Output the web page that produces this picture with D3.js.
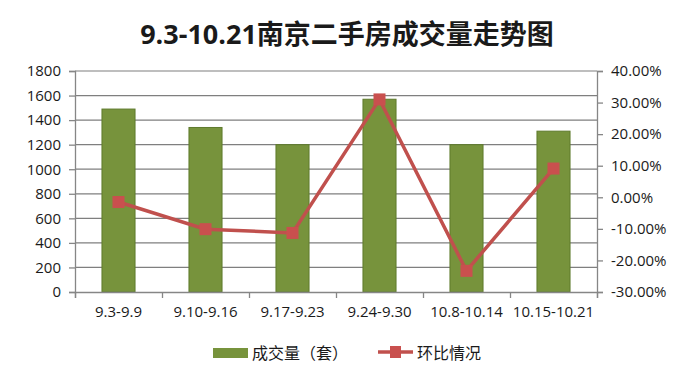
<html>
<head>
<meta charset="utf-8">
<script src="https://cdnjs.cloudflare.com/ajax/libs/d3/7.8.5/d3.min.js"></script>
<style>
  body { margin: 0; background: #fff; }
  text { font-family: "Open Sans", "Noto Sans CJK SC", sans-serif; fill: #1a1a1a; }
</style>
</head>
<body>
<div id="chart"></div>
<script>
// data
var weeks = ["9.3-9.9", "9.10-9.16", "9.17-9.23", "9.24-9.30", "10.8-10.14", "10.15-10.21"];
var volume = [1490, 1340, 1200, 1570, 1200, 1310];
var ratio = [-0.015, -0.101, -0.113, 0.310, -0.233, 0.091];
var leftTicks = [0, 200, 400, 600, 800, 1000, 1200, 1400, 1600, 1800];
var rightTicks = [-0.3, -0.2, -0.1, 0, 0.1, 0.2, 0.3, 0.4];

var W = 700, H = 380;
var m = {left: 75, right: 103, top: 71, bottom: 88};

var svg = d3.select("#chart").append("svg").attr("width", W).attr("height", H);

var x = d3.scaleBand().domain(weeks).range([m.left, W - m.right]).paddingInner(0.62).paddingOuter(0.31);
var xEdge = d3.scaleLinear().domain([0, weeks.length]).range([m.left, W - m.right]);
var y = d3.scaleLinear().domain([0, 1800]).range([H - m.bottom, m.top]);
var y2 = d3.scaleLinear().domain([-0.3, 0.4]).range([H - m.bottom, m.top]);

// title
svg.append("text").attr("x", 347).attr("y", 44).attr("text-anchor", "middle")
  .style("font-size", "27px").style("font-weight", "bold")
  .style("font-family", "'Open Sans', 'Noto Sans CJK SC', sans-serif")
  .text("9.3-10.21南京二手房成交量走势图");

// gridlines
svg.append("g").selectAll("line").data(leftTicks.slice(1)).enter().append("line")
  .attr("x1", m.left).attr("x2", W - m.right)
  .attr("y1", function(d) { return y(d); }).attr("y2", function(d) { return y(d); })
  .attr("stroke", "#7f7f7f").attr("stroke-width", 1.2);

// bars
svg.append("g").selectAll("rect").data(volume).enter().append("rect")
  .attr("x", function(d, i) { return x(weeks[i]); })
  .attr("y", function(d) { return y(d); })
  .attr("width", x.bandwidth())
  .attr("height", function(d) { return y(0) - y(d); })
  .attr("fill", "#77933c").attr("stroke", "#5e7a2c").attr("stroke-width", 1);

// axes
var gl = svg.append("g").attr("transform", "translate(" + m.left + ",0)")
  .call(d3.axisLeft(y).tickValues(leftTicks).tickSize(6).tickPadding(8).tickFormat(d3.format("d")));
var gr = svg.append("g").attr("transform", "translate(" + (W - m.right) + ",0)")
  .call(d3.axisRight(y2).tickValues(rightTicks).tickSize(6).tickPadding(8)
    .tickFormat(function(d) { return (d * 100).toFixed(2) + "%"; }));
var gb = svg.append("g").attr("transform", "translate(0," + (H - m.bottom) + ")")
  .call(d3.axisBottom(xEdge).tickValues(d3.range(weeks.length + 1)).tickSize(6).tickFormat(""));
svg.append("g").selectAll("text").data(weeks).enter().append("text")
  .attr("x", function(d) { return x(d) + x.bandwidth() / 2; })
  .attr("y", H - m.bottom + 25).attr("text-anchor", "middle")
  .style("font-size", "15px").text(function(d) { return d; });

[gl, gr, gb].forEach(function(g) {
  g.selectAll(".domain").attr("stroke", "#868686").attr("stroke-width", 1.3);
  g.selectAll(".tick line").attr("stroke", "#868686").attr("stroke-width", 1.3);
  g.selectAll("text").style("font-size", "15px").attr("fill", "#1a1a1a")
    .style("font-family", "'Open Sans', sans-serif");
});

// ratio line
var line = d3.line()
  .x(function(d, i) { return x(weeks[i]) + x.bandwidth() / 2; })
  .y(function(d) { return y2(d); });
svg.append("path").datum(ratio).attr("d", line)
  .attr("fill", "none").attr("stroke", "#c0504d").attr("stroke-width", 3.5);
svg.append("g").selectAll("rect").data(ratio).enter().append("rect")
  .attr("x", function(d, i) { return x(weeks[i]) + x.bandwidth() / 2 - 6; })
  .attr("y", function(d) { return y2(d) - 6; })
  .attr("width", 12).attr("height", 12)
  .attr("fill", "#c9504e");

// legend
var lg = svg.append("g");
lg.append("rect").attr("x", 213).attr("y", 348).attr("width", 35).attr("height", 10).attr("fill", "#77933c");
lg.append("text").attr("x", 252).attr("y", 359).style("font-size", "16px")
  .style("font-family", "'Noto Sans CJK SC', sans-serif").text("成交量（套）");
lg.append("line").attr("x1", 378).attr("x2", 413).attr("y1", 352).attr("y2", 352)
  .attr("stroke", "#c0504d").attr("stroke-width", 3.5);
lg.append("rect").attr("x", 390).attr("y", 346).attr("width", 11).attr("height", 12).attr("fill", "#c9504e");
lg.append("text").attr("x", 417).attr("y", 359).style("font-size", "16px")
  .style("font-family", "'Noto Sans CJK SC', sans-serif").text("环比情况");
</script>
</body>
</html>
